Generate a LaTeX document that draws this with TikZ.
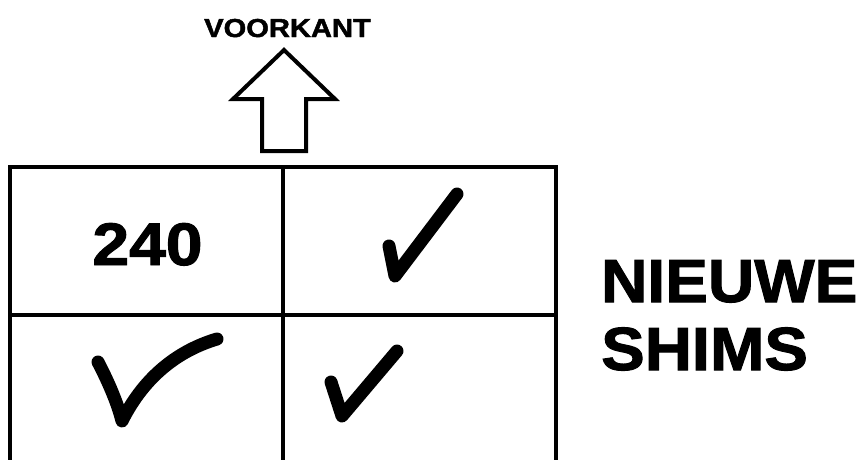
\documentclass[tikz,border=0pt]{standalone}
\usepackage{fontspec}
\setmainfont{Liberation Sans}
\newfontfamily\heavyfont{Liberation Sans Bold}[FakeBold=1.6]
\begin{document}
\begin{tikzpicture}[x=1pt,y=-1pt,
  gridline/.style={line width=4pt,line join=miter},
  tick/.style={line width=13pt,line cap=round,line join=round},
  lbl/.style={inner sep=0pt}]
\useasboundingbox[fill=white] (0,0) rectangle (861,459);
% arrow
\draw[line width=4pt,line join=miter] (262,151) -- (262,99) -- (233,99) -- (284,50) -- (335,99) -- (306,99) -- (306,151) -- cycle;
\node[lbl,anchor=base,font=\fontsize{26}{30}\heavyfont,xscale=1.12] (voor) at (287.5,37) {VOORKANT};
% grid
\draw[gridline] (10,461) -- (10,167) -- (556,167) -- (556,461);
\draw[gridline] (283,167) -- (283,461);
\draw[gridline] (10,315) -- (556,315);
% texts
\node[lbl,anchor=base,font=\fontsize{60}{66}\heavyfont,xscale=1.1] (n240) at (147.5,265) {240};
\node[lbl,anchor=base west,font=\fontsize{61}{66}\heavyfont,xscale=1.05] (nieuwe) at (601,302) {NIEUWE};
\node[lbl,anchor=base west,font=\fontsize{61}{66}\heavyfont,xscale=1.07] (shims) at (601,370) {SHIMS};
% checks
\draw[tick] (389,246) -- (395,276) -- (457,194);
\draw[tick] (98,362) .. controls (110,385) and (118,405) .. (122,421) .. controls (145,375) and (180,350) .. (217,339);
\draw[tick] (331,382) -- (342,416) -- (397,351);
\end{tikzpicture}
\end{document}
